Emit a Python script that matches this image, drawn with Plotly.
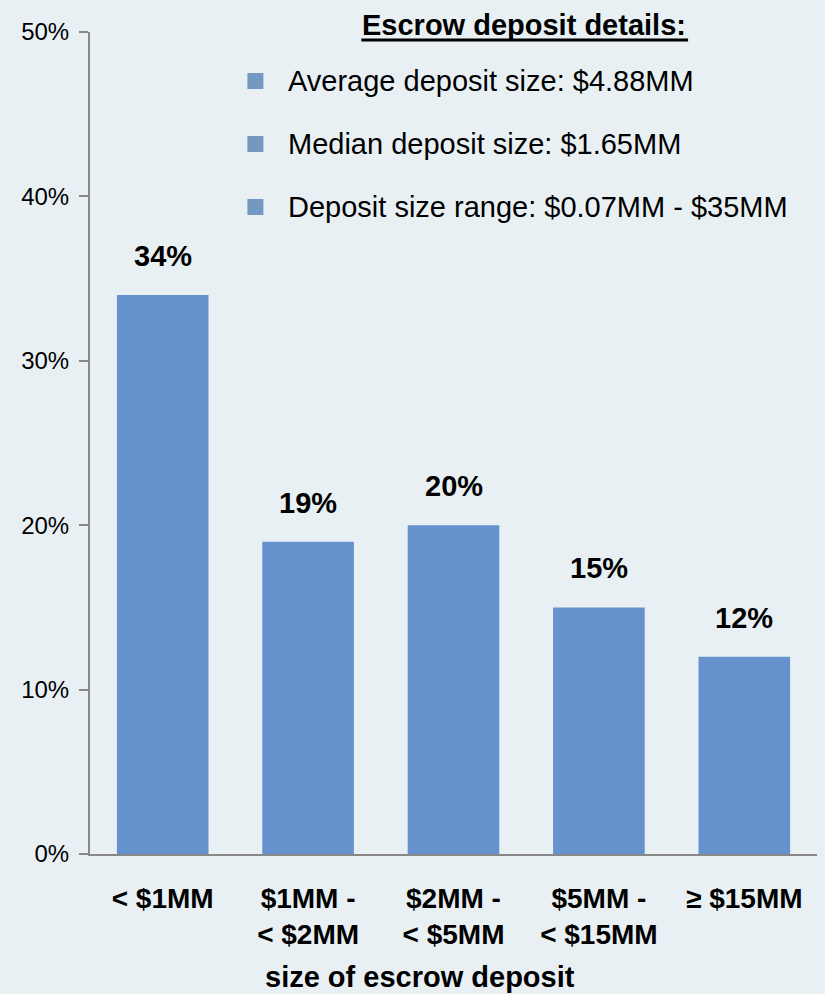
import plotly.graph_objects as go

# Share of escrow deposits by deposit size
categories = ["< $1MM", "$1MM -<br>< $2MM", "$2MM -<br>< $5MM", "$5MM -<br>< $15MM", "≥ $15MM"]
shares = [0.34, 0.19, 0.20, 0.15, 0.12]

x_title = "size of escrow deposit"
detail_title = "Escrow deposit details:"
detail_lines = [
    "Average deposit size: $4.88MM",
    "Median deposit size: $1.65MM",
    "Deposit size range: $0.07MM - $35MM",
]
y_ticks = [0, 0.1, 0.2, 0.3, 0.4, 0.5]
y_tick_text = ["0%", "10%", "20%", "30%", "40%", "50%"]

W, H = 825, 994
ML, MR, MT, MB = 89.5, 8, 32, 140
PW, PH = W - ML - MR, H - MT - MB

BG = "#E9F0F4"
BAR = "#6591CC"
AXIS = "#888888"
BULLET = "#7398C1"
FONT = "Liberation Sans, Arial, sans-serif"


def px_x(px):
    return (px - ML) / PW


def px_y(py):
    return (H - MB - py) / PH


fig = go.Figure()
fig.add_trace(go.Bar(
    x=categories,
    y=shares,
    marker=dict(color=BAR, line=dict(width=0)),
    width=0.63,
    hoverinfo="skip",
))

annotations = []
# value labels above each bar
for c, v in zip(categories, shares):
    annotations.append(dict(
        x=c, y=v, xref="x", yref="y",
        text=f"<b>{round(v * 100)}%</b>",
        showarrow=False, yanchor="bottom", yshift=21,
        font=dict(family=FONT, size=29, color="#000000"),
    ))

# axis title, set slightly left of the plot centre
annotations.append(dict(
    x=px_x(420), y=px_y(977), xref="paper", yref="paper",
    text=f"<b>{x_title}</b>", showarrow=False,
    xanchor="center", yanchor="middle",
    font=dict(family=FONT, size=29, color="#000000"),
))

# details box
annotations.append(dict(
    x=px_x(524), y=px_y(25), xref="paper", yref="paper",
    text=f"<b>{detail_title}</b>", showarrow=False,
    xanchor="center", yanchor="middle",
    font=dict(family=FONT, size=29, color="#000000"),
))
shapes = [dict(
    type="line", xref="paper", yref="paper",
    x0=px_x(361), x1=px_x(688), y0=px_y(40), y1=px_y(40),
    line=dict(color="#000000", width=3),
)]
for i, line in enumerate(detail_lines):
    cy = 81 + i * 63
    annotations.append(dict(
        x=px_x(286), y=px_y(cy), xref="paper", yref="paper",
        text=line, showarrow=False, xanchor="left", yanchor="middle",
        font=dict(family=FONT, size=29, color="#000000"),
    ))
    shapes.append(dict(
        type="rect", xref="paper", yref="paper",
        x0=px_x(247), x1=px_x(263), y0=px_y(cy + 8), y1=px_y(cy - 8),
        fillcolor=BULLET, line=dict(width=0),
    ))

fig.update_layout(
    width=W, height=H,
    margin=dict(l=ML, r=MR, t=MT, b=MB, pad=0),
    paper_bgcolor=BG, plot_bgcolor=BG,
    showlegend=False,
    font=dict(family=FONT, color="#000000"),
    annotations=annotations,
    shapes=shapes,
    xaxis=dict(
        range=[-0.5, 4.5],
        showline=True, linecolor=AXIS, linewidth=2,
        ticks="", showgrid=False, zeroline=False,
        tickfont=dict(family=FONT, size=28, color="#000000"),
        tickprefix="<b>", ticksuffix="</b>",
        ticklabelstandoff=18,
    ),
    yaxis=dict(
        range=[0, 0.5],
        tickvals=y_ticks, ticktext=y_tick_text,
        showline=True, linecolor=AXIS, linewidth=2,
        ticks="outside", ticklen=9, tickwidth=2, tickcolor=AXIS,
        showgrid=False, zeroline=False,
        tickfont=dict(family=FONT, size=24, color="#000000"),
        ticklabelstandoff=5,
    ),
)

fig.write_html("out.html")
